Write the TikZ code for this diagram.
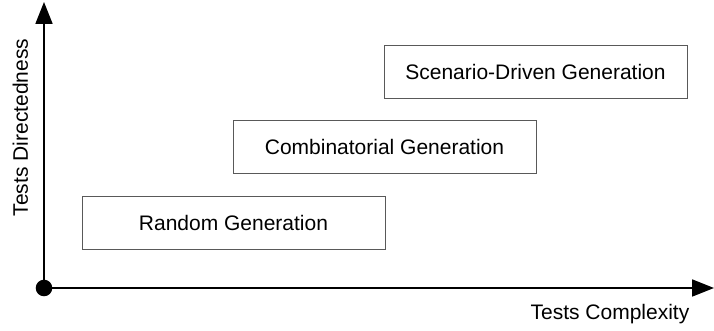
\documentclass[tikz,border=0pt]{standalone}
\usepackage{fontspec}
\setmainfont{Liberation Sans}
\usetikzlibrary{arrows.meta}

\tikzset{
	genbox/.style={draw=black!65, line width=1pt, minimum width=303pt, minimum height=53pt, inner sep=0pt},
	axis/.style={line width=1.8pt, -{Triangle[length=22pt, width=17pt]}}
}

\begin{document}
\begin{tikzpicture}[x=1pt, y=1pt, font=\fontsize{21}{25}\selectfont]
		
		\useasboundingbox (0,0) rectangle (714,331);
		
		%========================
		% axes
		%========================
		\coordinate (origin) at (44,43);
		\coordinate (ytop) at (44,329);
		\coordinate (xend) at (714,43);
		\draw[axis] (origin) -- (ytop);
		\draw[axis] (origin) -- (xend);
		\fill (origin) circle (8.3);
		
		\node[rotate=90, anchor=base] (ylabel) at (28,203.5) {Tests Directedness};
		\node[anchor=base] (xlabel) at (610,11) {Tests Complexity};
		
		%========================
		% generation kinds
		%========================
		\node[genbox] (random) at (233.5,108) {Random Generation};
		\node[genbox] (comb) at (384.5,184) {Combinatorial Generation};
		\node[genbox] (scen) at (535.5,258.5) {Scenario-Driven Generation};
		
	\end{tikzpicture}
\end{document}
